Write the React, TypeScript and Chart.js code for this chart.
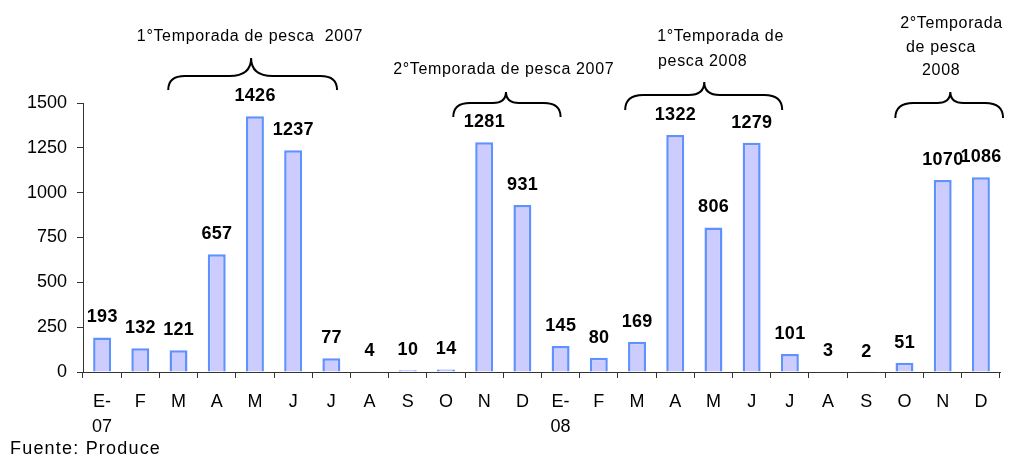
import { useEffect, useRef } from "react";
import { Chart, registerables } from "chart.js";
Chart.register(...registerables);

const categories: (string | string[])[] = [
  ["E-", "07"], "F", "M", "A", "M", "J", "J", "A", "S", "O", "N", "D",
  ["E-", "08"], "F", "M", "A", "M", "J", "J", "A", "S", "O", "N", "D",
];
const values = [193, 132, 121, 657, 1426, 1237, 77, 4, 10, 14, 1281, 931, 145, 80, 169, 1322, 806, 1279, 101, 3, 2, 51, 1070, 1086];
const yTicks = [0, 250, 500, 750, 1000, 1250, 1500];

// Season annotations (category-position based)
const seasonLines: string[][] = [
  ["1°Temporada de pesca  2007"],
  ["2°Temporada de pesca 2007"],
  ["1°Temporada de", "pesca 2008"],
  ["2°Temporada", "de pesca", "2008"],
];
const seasonTextX: number[][] = [[0.91], [7.62], [14.53, 14.55], [20.89, 21.04, 21.46]];
const seasonTextY: number[][] = [[37], [70], [37, 62], [24, 48, 71]];
const braceStart = [1.73, 9.19, 13.69, 20.76];
const braceEnd = [6.15, 12.0, 17.8, 23.58];
const bracePeak = [3.9, 10.57, 15.76, 22.2];
const braceYEnd = [90, 117, 110, 118];
const braceYMid = [76, 103, 95, 103];
const braceYPeak = [58, 92, 82, 92];
const sourceText = "Fuente: Produce";

const FONT = "'Liberation Sans', Arial, sans-serif";

function drawBrace(ctx: CanvasRenderingContext2D, x0: number, x1: number, xp: number, yEnd: number, yMid: number, yPeak: number) {
  const h = (yEnd - yMid) * 1.2;
  const k = (yMid - yPeak) * 1.2;
  ctx.beginPath();
  ctx.moveTo(x0, yEnd);
  ctx.quadraticCurveTo(x0, yMid, x0 + h, yMid);
  ctx.lineTo(xp - k, yMid);
  ctx.quadraticCurveTo(xp, yMid, xp, yPeak);
  ctx.quadraticCurveTo(xp, yMid, xp + k, yMid);
  ctx.lineTo(x1 - h, yMid);
  ctx.quadraticCurveTo(x1, yMid, x1, yEnd);
  ctx.stroke();
}

const annotPlugin = {
  id: "annot",
  afterDraw(chart: any) {
    const ctx: CanvasRenderingContext2D = chart.ctx;
    const xs = chart.scales.x;
    const meta = chart.getDatasetMeta(0);
    ctx.save();
    // data labels
    ctx.fillStyle = "#000";
    ctx.font = `bold 18px ${FONT}`;
    (ctx as any).letterSpacing = "0.3px";
    ctx.textAlign = "center";
    ctx.textBaseline = "alphabetic";
    meta.data.forEach((bar: any, i: number) => {
      ctx.fillText(String(values[i]), bar.x + 0.15, bar.y - 15);
    });
    // braces
    ctx.strokeStyle = "#000";
    ctx.lineWidth = 2;
    for (let i = 0; i < braceStart.length; i++) {
      drawBrace(
        ctx,
        xs.getPixelForValue(braceStart[i]),
        xs.getPixelForValue(braceEnd[i]),
        xs.getPixelForValue(bracePeak[i]),
        braceYEnd[i], braceYMid[i], braceYPeak[i]
      );
    }
    // season texts
    ctx.font = `16px ${FONT}`;
    (ctx as any).letterSpacing = "0.65px";
    ctx.textAlign = "left";
    ctx.textBaseline = "middle";
    seasonLines.forEach((lines, i) => {
      lines.forEach((t, j) => {
        ctx.fillText(t, xs.getPixelForValue(seasonTextX[i][j]), seasonTextY[i][j]);
      });
    });
    // source
    ctx.font = `18px ${FONT}`;
    (ctx as any).letterSpacing = "1.2px";
    ctx.fillText(sourceText, 10, 449);
    ctx.restore();
  },
};

export default function App() {
  const ref = useRef<HTMLCanvasElement | null>(null);
  useEffect(() => {
    if (!ref.current) return;
    const chart = new Chart(ref.current, {
      type: "bar",
      data: {
        labels: categories as any,
        datasets: [
          {
            data: values,
            backgroundColor: "rgb(204,204,255)",
            borderColor: "rgb(95,145,255)",
            borderWidth: 2.5,
            categoryPercentage: 1,
            barPercentage: 0.47,
          },
        ],
      },
      options: {
        animation: false,
        responsive: false,
        layout: { padding: { left: 0, right: 9, top: 103, bottom: 0 } },
        plugins: { legend: { display: false }, tooltip: { enabled: false } },
        scales: {
          x: {
            offset: true,
            grid: { offset: true, drawOnChartArea: false, drawTicks: true, tickLength: 6, color: "#333" },
            border: { display: true, color: "#333", width: 1 },
            ticks: {
              autoSkip: false,
              maxRotation: 0,
              color: "#000",
              padding: 12,
              font: { family: FONT, size: 18, lineHeight: 1.39 },
            },
            afterFit: (s: any) => { s.height = 86; },
          },
          y: {
            min: 0,
            max: 1500,
            afterBuildTicks: (s: any) => { s.ticks = yTicks.map((v) => ({ value: v })); },
            grid: { drawOnChartArea: false, drawTicks: true, tickLength: 6, color: "#333" },
            border: { display: true, color: "#333", width: 1 },
            ticks: {
              color: "#000",
              padding: 10,
              font: { family: FONT, size: 18 },
              callback: (v: any) => String(v),
            },
            afterFit: (s: any) => { s.width = 83; },
          },
        },
      },
      plugins: [annotPlugin],
    });
    return () => chart.destroy();
  }, []);
  return (
    <canvas
      ref={ref}
      width={1009}
      height={458}
      style={{ position: "fixed", left: 0, top: 0, width: 1009, height: 458, display: "block", background: "#fff" }}
    />
  );
}
